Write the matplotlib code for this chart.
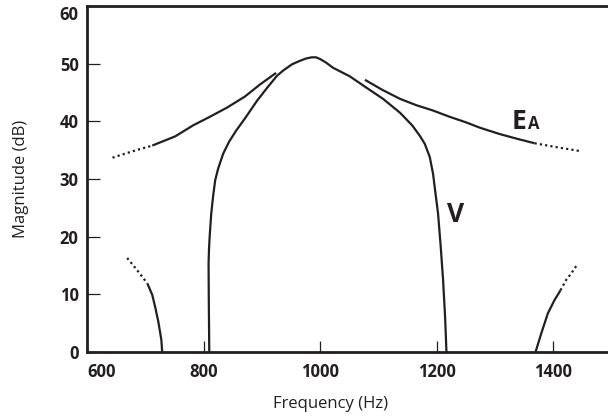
import matplotlib
matplotlib.use('Agg')
import matplotlib.pyplot as plt

plt.rcParams['font.family'] = ['Open Sans', 'DejaVu Sans']

# values (Hz, dB)
v_f = [809.8, 809, 808.6, 809.4, 810.6, 813.2, 816.6, 820, 825, 833.7, 844, 856, 871, 892, 909, 926,
       936.5, 952, 965.6, 976, 985.6, 993, 1000, 1010, 1022, 1051, 1080, 1108, 1137, 1158, 1171,
       1179.6, 1188.2, 1193.8, 1198, 1202.4, 1207, 1211, 1214.5, 1216.8]
v_db = [0, 9.0, 15.4, 18.0, 20.2, 24.0, 27.2, 29.8, 31.8, 34.4, 36.5, 38.4, 40.5, 43.6, 45.8, 47.9,
        48.8, 49.9, 50.5, 50.9, 51.1, 51.1, 50.8, 50.2, 49.3, 47.8, 45.8, 43.9, 41.5, 39.3, 37.5,
        36.1, 33.8, 30.9, 27.5, 24.0, 18.2, 12.5, 6.0, 0]

ea_left_f = [712, 751.5, 782, 811, 840.6, 871, 897, 924.5]
ea_left_db = [35.8, 37.4, 39.3, 40.8, 42.4, 44.3, 46.4, 48.4]
ea_left_dot_f = [643.7, 678, 712]
ea_left_dot_db = [33.7, 34.8, 35.8]

ea_right_f = [1077, 1106, 1137, 1165, 1193, 1222, 1251, 1274, 1308, 1337, 1368]
ea_right_db = [47.2, 45.5, 43.9, 42.8, 41.9, 40.8, 39.8, 38.9, 37.8, 37.0, 36.2]
ea_right_dot_f = [1368, 1407, 1448.5]
ea_right_dot_db = [36.2, 35.5, 34.8]

low_left_f = [703.5, 712, 717, 722.5, 727.6, 729]
low_left_db = [11.9, 9.9, 7.8, 5.2, 2.1, 0]
low_left_dot_f = [669, 686, 703.5]
low_left_dot_db = [16.3, 14.2, 11.9]

low_right_f = [1369.7, 1379.4, 1390.8, 1402.2, 1412.5]
low_right_db = [0, 3.2, 6.7, 9.0, 10.7]
low_right_dot_f = [1412.5, 1422.2, 1430.8, 1439.4]
low_right_dot_db = [10.7, 12.5, 13.6, 14.9]

xticks = [600, 800, 1000, 1200, 1400]
yticks = [0, 10, 20, 30, 40, 50, 60]

fig = plt.figure(figsize=(6.08, 4.2), dpi=100)
ax = fig.add_axes([87 / 608, 1 - 352 / 420, 1 - 87 / 608, (352 - 6) / 420])

col = '#231f20'
solid = dict(color=col, lw=1.6, solid_capstyle='butt', solid_joinstyle='round')
dotted = dict(color=col, lw=1.6, linestyle=(0, (1, 1.4)))

ax.plot(v_f, v_db, **solid)
ax.plot(ea_left_f, ea_left_db, **solid)
ax.plot(ea_left_dot_f, ea_left_dot_db, **dotted)
ax.plot(ea_right_f, ea_right_db, **solid)
ax.plot(ea_right_dot_f, ea_right_dot_db, **dotted)
ax.plot(low_left_f, low_left_db, **solid)
ax.plot(low_left_dot_f, low_left_dot_db, **dotted)
ax.plot(low_right_f, low_right_db, **solid)
ax.plot(low_right_dot_f, low_right_dot_db, **dotted)

ax.text(1329, 38.75, 'E', fontsize=19, fontweight='bold', color=col, ha='left', va='baseline')
ax.text(1357, 38.6, 'A', fontsize=12, fontweight='bold', color=col, ha='left', va='baseline')
ax.text(1218, 22.5, 'V', fontsize=19, fontweight='bold', color=col, ha='left', va='baseline')

ax.set_xlim(600, 1494)
ax.set_ylim(0, 60)
ax.set_xticks(xticks)
ax.set_yticks(yticks)
ax.set_xticklabels([str(t) for t in xticks])
ax.set_yticklabels([str(t) for t in yticks])

ax.spines['right'].set_visible(False)
for s in ['left', 'top', 'bottom']:
    ax.spines[s].set_linewidth(2.0)
    ax.spines[s].set_color(col)

ax.tick_params(axis='x', direction='in', length=8, width=0.9, color=col, pad=8,
               labelsize=12, labelcolor=col)
ax.tick_params(axis='y', direction='in', length=9.5, width=0.9, color=col, pad=6,
               labelsize=12, labelcolor=col)
for lab in ax.get_xticklabels() + ax.get_yticklabels():
    lab.set_fontweight('bold')
ax.get_xticklabels()[0].set_ha('left')
ax.get_yticklabels()[-1].set_va('top')

ax.set_xlabel('Frequency (Hz)', fontsize=12, color=col)
ax.set_ylabel('Magnitude (dB)', fontsize=12, color=col)
ax.xaxis.set_label_coords(0.468, -0.128)
ax.yaxis.set_label_coords(-0.112, 0.5)

fig.savefig('out.png', dpi=100)
